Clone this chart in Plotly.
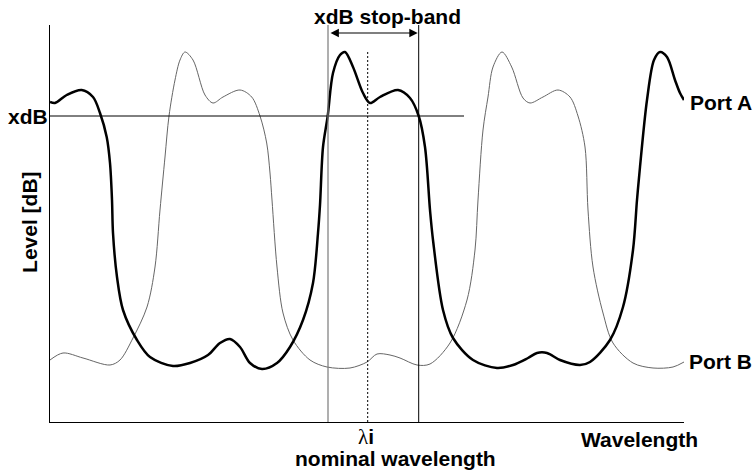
import plotly.graph_objects as go

# ---- data (x: wavelength units, y: level units) ----
port_a_x = [0, 5, 16.7, 31.7, 43, 50, 56.7, 60, 62, 63, 67, 73, 87, 100, 123, 140, 158, 170, 180, 190, 200, 212,
            227, 240, 253, 263, 268, 270, 273, 277.7, 283, 290, 295, 303, 313, 320, 330, 348, 360, 368.7, 375, 380,
            383, 393, 403, 423, 447, 463, 478, 487, 497, 510, 530, 540, 560, 573, 583, 587, 590, 597, 604, 610,
            617, 625, 630, 634]
port_a_y = [320, 319, 327, 332, 325, 309, 285, 259, 222, 189, 145, 112, 82, 65, 56, 59, 67, 79, 83, 75, 59, 53,
            59, 75, 102, 139, 189, 217, 275, 306, 349, 367, 370, 355, 329, 319, 325, 332, 324, 306, 275, 212,
            182, 112, 84, 62, 54, 57, 64, 69, 69, 62, 57, 60, 82, 115, 172, 222, 255, 322, 362, 370,
            365, 342, 329, 322]

port_b_x = [0, 13, 33, 60, 70, 83, 97, 105, 110, 115, 119, 125, 130, 135, 143, 155, 163, 173, 190, 201.7, 210,
            216.7, 220, 222, 227, 233, 243, 260, 277, 300, 317, 327, 340, 350, 367, 380, 400, 417, 425, 428,
            433, 438, 443, 452, 461.7, 473, 480, 493, 508, 520, 528, 535, 538, 543, 553, 563, 583, 603, 623, 634]
port_b_y = [62, 69, 64, 57, 62, 84, 115, 155, 212, 265, 306, 342, 362, 370, 362, 327, 319, 325, 332, 325, 306,
            279, 249, 222, 155, 109, 82, 62, 55, 54, 60, 68, 67, 64, 57, 58, 79, 122, 172, 222,
            292, 325, 355, 370, 355, 324, 319, 325, 332, 325, 306, 275, 212, 155, 109, 79, 59, 54, 55, 60]

x_range = [0, 634]
y_range = [0, 397]
xdb_level = 306
xdb_line_end = 414
stopband = [278, 368.7]
nominal = 317.7
peak_level = 370
arrow_level = 389

FONT = "Liberation Sans, Arial, sans-serif"
FS = 21

fig = go.Figure()
fig.add_trace(go.Scatter(x=port_b_x, y=port_b_y, mode="lines", name="Port B",
                         line=dict(color="#666666", width=1, shape="spline", smoothing=0.9)))
fig.add_trace(go.Scatter(x=port_a_x, y=port_a_y, mode="lines", name="Port A",
                         line=dict(color="black", width=2.5, shape="spline", smoothing=0.9)))

# reference lines
fig.add_shape(type="line", x0=0, x1=xdb_line_end, y0=xdb_level, y1=xdb_level,
              line=dict(color="black", width=1))
fig.add_shape(type="line", x0=stopband[0], x1=stopband[0], y0=0, y1=y_range[1],
              line=dict(color="#7a7a7a", width=1.2))
fig.add_shape(type="line", x0=stopband[1], x1=stopband[1], y0=0, y1=y_range[1],
              line=dict(color="black", width=1))
fig.add_shape(type="line", x0=nominal, x1=nominal, y0=0, y1=peak_level,
              line=dict(color="black", width=1, dash="2px,2px"))

# double arrow
fig.add_annotation(x=stopband[1] - 1, y=arrow_level, ax=stopband[0] + 1, ay=arrow_level,
                   xref="x", yref="y", axref="x", ayref="y", text="", showarrow=True,
                   arrowhead=2, arrowside="end+start", arrowsize=1.4, arrowwidth=1.2,
                   arrowcolor="black", standoff=0, startstandoff=0)

bold = dict(family=FONT, size=FS, color="black")
fig.add_annotation(text="<b>xdB stop-band</b>", x=337, y=1.0202, xref="x", yref="paper",
                   showarrow=False, font=bold, xanchor="center", yanchor="middle")
fig.add_annotation(text="<b>xdB</b>", x=0, y=xdb_level, xref="paper", yref="y",
                   showarrow=False, font=bold, xanchor="right", yanchor="middle")
fig.add_annotation(text="<b>Level [dB]</b>", x=-0.0315, y=0.504, xref="paper", yref="paper",
                   showarrow=False, font=bold, textangle=-90, xanchor="center", yanchor="middle")
fig.add_annotation(text="<span style=\"font-family:'Liberation Serif'\">λ</span><b>i</b>",
                   x=nominal - 2, y=-0.0378, xref="x", yref="paper",
                   showarrow=False, font=dict(family=FONT, size=FS, color="black"),
                   xanchor="center", yanchor="middle")
fig.add_annotation(text="<b>nominal wavelength</b>", x=345, y=-0.0907, xref="x", yref="paper",
                   showarrow=False, font=bold, xanchor="center", yanchor="middle")
fig.add_annotation(text="<b>Wavelength</b>", x=589, y=-0.0453, xref="x", yref="paper",
                   showarrow=False, font=bold, xanchor="center", yanchor="middle")
fig.add_annotation(text="<b>Port A</b>", x=1.0063, y=320, xref="paper", yref="y",
                   showarrow=False, font=bold, xanchor="left", yanchor="middle")
fig.add_annotation(text="<b>Port B</b>", x=1.0047, y=61, xref="paper", yref="y",
                   showarrow=False, font=bold, xanchor="left", yanchor="middle")

fig.update_xaxes(range=x_range, showline=True, linecolor="black", linewidth=1,
                 showticklabels=False, ticks="", showgrid=False, zeroline=False)
fig.update_yaxes(range=y_range, showline=True, linecolor="black", linewidth=1,
                 showticklabels=False, ticks="", showgrid=False, zeroline=False)
fig.update_layout(width=754, height=473, margin=dict(l=50, r=70, t=25, b=51, pad=0),
                  plot_bgcolor="white", paper_bgcolor="white", showlegend=False,
                  font=dict(family=FONT))
fig.write_html("out.html", config={"displayModeBar": False},
               post_script="document.body.style.margin='0';"
                           "document.documentElement.style.overflow='hidden';"
                           "document.body.style.overflow='hidden';")
